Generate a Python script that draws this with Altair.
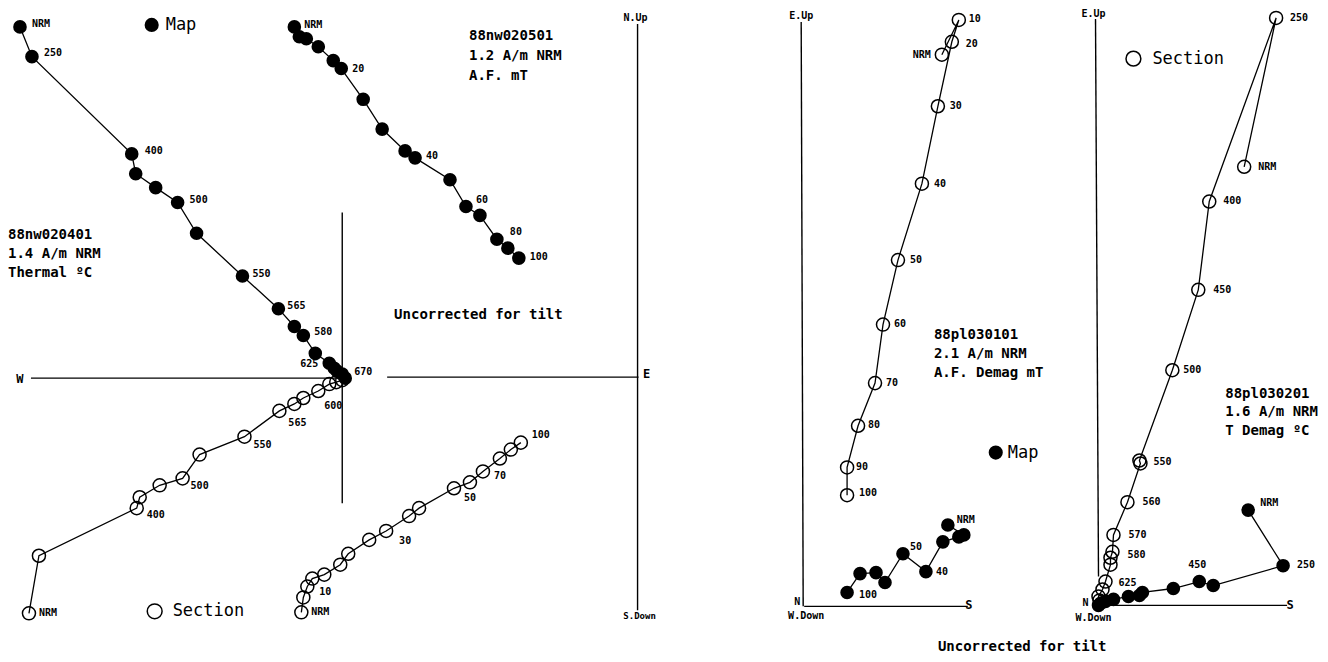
import altair as alt
import pandas as pd

# ---------------- DATA (component units; each diagram's origin = 0,0; h = horizontal axis, v = vertical axis)
# Diagram 1: 88nw020401 (thermal)
P1_MAP_H = [-323, -311, -211, -207, -187, -165, -146, -100, -64, -48, -39, -27, -13, -8, -5, 0, 3]
P1_MAP_V = [354, 324, 226, 206, 192, 177, 146, 103, 70, 52, 43, 25, 15, 10, 7, 4, 0]
P1_MAP_LAB = ["NRM", "250", "400", "", "", "500", "", "550", "565", "", "580", "", "625", "", "", "", "670"]
P1_SEC_H = [-314, -304, -206, -203, -183, -160, -143, -98, -63, -48, -39, -24, -13, -6, 0]
P1_SEC_V = [-237, -179, -131, -120, -108, -101, -77, -59, -33, -26, -20, -13, -6, -4, -2]
P1_SEC_LAB = ["NRM", "", "400", "", "", "500", "", "550", "565", "", "", "600", "", "", ""]

# Diagram 2: 88nw020501 (A.F.)
P2_MAP_H = [-344, -339, -332, -320, -305, -297, -275, -256, -233, -223, -188, -172, -158, -141, -130, -119]
P2_MAP_V = [353, 343, 341, 333, 319, 311, 280, 250, 228, 221, 199, 172, 163, 139, 130, 120]
P2_MAP_LAB = ["NRM", "", "", "", "", "20", "", "", "", "40", "", "60", "", "80", "", "100"]
P2_SEC_H = [-337, -335, -331, -326, -314, -298, -290, -269, -252, -229, -219, -184, -168, -155, -138, -127, -117]
P2_SEC_V = [-237, -222, -211, -203, -199, -189, -178, -164, -155, -140, -132, -112, -106, -95, -82, -73, -66]
P2_SEC_LAB = ["NRM", "", "", "10", "", "", "", "", "30", "", "", "50", "", "70", "", "", "100"]

# Diagram 3: 88pl030101 (A.F. demag)
P3_SEC_H = [141, 158, 151, 137, 121, 97, 82, 74, 57, 46, 46]
P3_SEC_V = [556, 591, 569, 504, 426, 349, 284, 225, 182, 140, 112]
P3_SEC_LAB = ["NRM", "10", "20", "30", "40", "50", "60", "70", "80", "90", "100"]
P3_MAP_H = [147, 163, 158, 142, 125, 102, 84, 75, 59, 46]
P3_MAP_V = [82, 72, 70, 65, 35, 53, 24, 34, 33, 14]
P3_MAP_LAB = ["NRM", "", "", "", "40", "50", "", "", "", "100"]

# Diagram 4: 88pl030201 (thermal demag)
P4_SEC_H = [146, 178, 111, 100, 74, 41, 42, 29, 15, 14, 12, 12, 7, 4, 0, 1]
P4_SEC_V = [442, 592, 407, 318, 237, 146, 143, 104, 71, 54, 48, 41, 24, 16, 9, 5]
P4_SEC_LAB = ["NRM", "250", "400", "450", "500", "550", "", "560", "570", "580", "", "", "625", "", "", ""]
P4_MAP_H = [150, 185, 115, 101, 75, 44, 41, 30, 15, 7, 2, 0]
P4_MAP_V = [96, 40, 20, 24, 17, 13, 10, 9, 6, 4, 2, 0]
P4_MAP_LAB = ["NRM", "250", "", "450", "", "", "", "", "", "", "", ""]

INFO = {
    "P1": ["88nw020401", "1.4 A/m NRM", "Thermal ºC"],
    "P2": ["88nw020501", "1.2 A/m NRM", "A.F. mT"],
    "P3": ["88pl030101", "2.1 A/m NRM", "A.F. Demag mT"],
    "P4": ["88pl030201", "1.6 A/m NRM", "T Demag ºC"],
}
TILT_NOTE = "Uncorrected for tilt"

# ---------------- LAYOUT (page pixels)
W, H = 1312, 646
ORIGIN = {"P1": (340, 377), "P2": (636, 376), "P3": (800, 607), "P4": (1098, 606)}
# label placement: index -> (dx, dy, align)
PLACE = {
    ("P1", "map"): {0: (12, -3, "left"), 1: (12, -4, "left"), 2: (13, -3, "left"), 5: (12, -3, "left"),
                    7: (10, -2, "left"), 8: (9, -3, "left"), 10: (11, -4, "left"), 12: (-11, 1, "right"),
                    16: (9, -6, "left")},
    ("P1", "sec"): {0: (10, 0, "left"), 2: (10, 7, "left"), 5: (8, 8, "left"), 7: (9, 8, "left"),
                    8: (9, 12, "left"), 11: (6, 15, "left")},
    ("P2", "map"): {0: (10, -2, "left"), 5: (11, 0, "left"), 9: (11, -2, "left"), 11: (10, -7, "left"),
                    13: (13, -7, "left"), 15: (11, -1, "left")},
    ("P2", "sec"): {0: (10, 0, "left"), 3: (7, 14, "left"), 8: (13, 10, "left"), 11: (10, 10, "left"),
                    13: (11, 5, "left"), 16: (11, -8, "left")},
    ("P3", "sec"): {0: (-11, 0, "right"), 1: (10, -1, "left"), 2: (14, 2, "left"), 3: (12, 0, "left"),
                    4: (12, 0, "left"), 5: (12, 0, "left"), 6: (11, -1, "left"), 7: (11, 0, "left"),
                    8: (10, -1, "left"), 9: (9, 0, "left"), 10: (12, -2, "left")},
    ("P3", "map"): {0: (9, -5, "left"), 4: (10, 0, "left"), 5: (7, -7, "left"), 9: (12, 3, "left")},
    ("P4", "sec"): {0: (14, 0, "left"), 1: (14, 0, "left"), 2: (14, -1, "left"), 3: (15, 0, "left"),
                    4: (11, 0, "left"), 5: (14, 2, "left"), 7: (15, 0, "left"), 8: (15, 0, "left"),
                    9: (15, 3, "left"), 12: (13, 1, "left")},
    ("P4", "map"): {0: (12, -7, "left"), 1: (14, -1, "left"), 3: (-2, -17, "center")},
}
# axis lines: (panel, h1, v1, h2, v2) in component units
AXES = [
    ("P1", -312, 0, 0, 0), ("P1", 0, 167, 0, -126),
    ("P2", -251, 0, 1, 0), ("P2", 0, 356, 0, -235),
    ("P3", 0, 589, 2, 0), ("P3", 3, 0, 167, 0),
    ("P4", -3, 591, 0, 29), ("P4", 2, 0, 189, 0),
]

series_defs = [
    ("P1", "map", P1_MAP_H, P1_MAP_V, P1_MAP_LAB), ("P1", "sec", P1_SEC_H, P1_SEC_V, P1_SEC_LAB),
    ("P2", "map", P2_MAP_H, P2_MAP_V, P2_MAP_LAB), ("P2", "sec", P2_SEC_H, P2_SEC_V, P2_SEC_LAB),
    ("P3", "sec", P3_SEC_H, P3_SEC_V, P3_SEC_LAB), ("P3", "map", P3_MAP_H, P3_MAP_V, P3_MAP_LAB),
    ("P4", "sec", P4_SEC_H, P4_SEC_V, P4_SEC_LAB), ("P4", "map", P4_MAP_H, P4_MAP_V, P4_MAP_LAB),
]

pts, labs = [], []
for panel, kind, hs, vs, lb in series_defs:
    ox, oy = ORIGIN[panel]
    place = PLACE[(panel, kind)]
    for i, (h, v) in enumerate(zip(hs, vs)):
        x, y = ox + h, oy - v
        pts.append(dict(key=f"{panel}-{kind}", i=i, x=x, y=y, kind=kind))
        if lb[i]:
            dx, dy, al = place.get(i, (10, -2, "left"))
            labs.append(dict(x=x + dx, y=y + dy, t=lb[i], align=al))
pts = pd.DataFrame(pts)
labs = pd.DataFrame(labs)

ax_rows = []
for panel, h1, v1, h2, v2 in AXES:
    ox, oy = ORIGIN[panel]
    ax_rows.append(dict(x=ox + h1, y=oy - v1, x2=ox + h2, y2=oy - v2))
axes_df = pd.DataFrame(ax_rows)

# text annotations (page px)
INFO_POS = {"P1": (5, 233), "P2": (467, 32), "P3": (933, 334), "P4": (1225, 393)}
LINE_GAP = {"P1": 19, "P2": 20, "P3": 19, "P4": 18.5}
big = []
for p, lines in INFO.items():
    x0, y0 = INFO_POS[p]
    for k, s in enumerate(lines):
        big.append(dict(x=x0, y=y0 + k * LINE_GAP[p], t=s))
big.append(dict(x=392, y=313, t=TILT_NOTE))
big.append(dict(x=937, y=648, t=TILT_NOTE))
big_df = pd.DataFrame(big)

leg_txt = pd.DataFrame([
    dict(x=163, y=21, t="Map"), dict(x=170, y=612, t="Section"),
    dict(x=1007, y=452, t="Map"), dict(x=1152, y=55, t="Section"),
])
leg_fill = pd.DataFrame([dict(x=149, y=21), dict(x=995, y=452)])
leg_open = pd.DataFrame([dict(x=152, y=612), dict(x=1133, y=55)])

axlab = pd.DataFrame([
    dict(x=17, y=378, t="W", s=12), dict(x=645, y=373, t="E", s=12),
    dict(x=634, y=14, t="N.Up", s=10), dict(x=638, y=617, t="S.Down", s=9),
    dict(x=800, y=12, t="E.Up", s=10), dict(x=796, y=603, t="N", s=10),
    dict(x=968, y=606, t="S", s=12), dict(x=805, y=617, t="W.Down", s=10),
    dict(x=1093, y=10, t="E.Up", s=10), dict(x=1085, y=604, t="N", s=10),
    dict(x=1093, y=619, t="W.Down", s=10), dict(x=1290, y=606, t="S", s=12),
])

FONT = "DejaVu Sans Mono"
xs = alt.Scale(domain=[8, 8 + W])
ys = alt.Scale(domain=[8, 8 + H], reverse=True)
X = alt.X("x:Q", scale=xs, axis=None)
Y = alt.Y("y:Q", scale=ys, axis=None)

rules = alt.Chart(axes_df).mark_rule(color="black", strokeWidth=1.4).encode(
    x=X, y=Y, x2="x2:Q", y2="y2:Q")

lines = alt.Chart(pts).mark_line(color="black", strokeWidth=1.3).encode(
    x=X, y=Y, detail="key:N", order="i:Q")

filled = alt.Chart(pts).transform_filter("datum.kind == 'map'").mark_circle(
    color="black", opacity=1, size=185).encode(x=X, y=Y)

opened = alt.Chart(pts).transform_filter("datum.kind == 'sec'").mark_point(
    shape="circle", filled=False, stroke="black", strokeWidth=1.5, size=170, opacity=1).encode(x=X, y=Y)

def lab_layer(al):
    return alt.Chart(labs).transform_filter(f"datum.align == '{al}'").mark_text(
        align=al, baseline="middle", font=FONT, fontSize=10, fontWeight="bold", color="black"
    ).encode(x=X, y=Y, text="t:N")

big_text = alt.Chart(big_df).mark_text(
    align="left", baseline="middle", font=FONT, fontSize=14, fontWeight="bold", color="black"
).encode(x=X, y=Y, text="t:N")

leg_text = alt.Chart(leg_txt).mark_text(
    align="left", baseline="middle", font=FONT, fontSize=17, color="black"
).encode(x=X, y=Y, text="t:N")

leg_f = alt.Chart(leg_fill).mark_circle(color="black", opacity=1, size=200).encode(x=X, y=Y)
leg_o = alt.Chart(leg_open).mark_point(shape="circle", filled=False, stroke="black",
                                       strokeWidth=1.5, size=220, opacity=1).encode(x=X, y=Y)

ax_text = alt.Chart(axlab).mark_text(
    align="center", baseline="middle", font=FONT, fontWeight="bold", color="black"
).encode(x=X, y=Y, text="t:N", size=alt.Size("s:Q", scale=None, legend=None))

chart = alt.layer(
    rules, lines, filled, opened,
    lab_layer("left"), lab_layer("right"), lab_layer("center"),
    big_text, leg_text, leg_f, leg_o, ax_text,
).properties(
    width=W, height=H, padding=0,
    autosize=alt.AutoSizeParams(type="fit", contains="padding"),
    background="white",
).configure_view(stroke=None)

chart.save("out.html", embed_options={"renderer": "svg", "actions": False})
